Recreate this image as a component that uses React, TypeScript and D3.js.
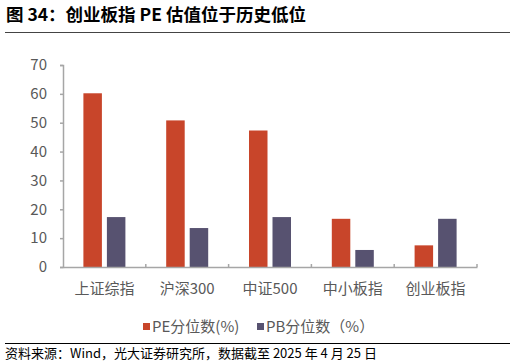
import * as d3 from 'd3'
import React, { useRef, useEffect } from 'react'

const categories = ['上证综指', '沪深300', '中证500', '中小板指', '创业板指']
const peValues = [60.2, 50.8, 47.3, 16.7, 7.5]
const pbValues = [17.3, 13.5, 17.3, 5.9, 16.7]
const seriesNames = ['PE分位数(%)', 'PB分位数（%）']
const yTicks = [0, 10, 20, 30, 40, 50, 60, 70]

const colors = ['#C8452A', '#575270']
const font = '"Noto Sans CJK SC", "Noto Sans", sans-serif'

const App = () => {
  const ref = useRef<SVGSVGElement | null>(null)

  useEffect(() => {
    const svg = d3.select(ref.current)
    svg.selectAll('*').remove()

    const width = 516
    const x0 = 63
    const x1 = 477
    const yTop = 65
    const yBottom = 267

    // Title
    svg.append('text')
      .attr('x', 6)
      .attr('y', 21)
      .style('font-family', font)
      .style('font-size', '17.5px')
      .style('font-weight', 'bold')
      .attr('fill', '#000')
      .text('图 34：创业板指 PE 估值位于历史低位')

    svg.append('line')
      .attr('x1', 5).attr('x2', width - 6)
      .attr('y1', 32.5).attr('y2', 32.5)
      .attr('stroke', '#444').attr('stroke-width', 1)

    const x = d3.scaleBand().domain(categories).range([x0, x1])
    const y = d3.scaleLinear().domain([0, 70]).range([yBottom, yTop])

    const barW = 18.5
    const gap = 5

    const series = [peValues, pbValues]
    series.forEach((vals, si) => {
      svg.selectAll(`.bar-${si}`)
        .data(vals)
        .enter().append('rect')
        .attr('x', (d, i) => {
          const c = x(categories[i])! + x.bandwidth() / 2
          return si === 0 ? c - gap / 2 - barW : c + gap / 2
        })
        .attr('y', d => y(d))
        .attr('width', barW)
        .attr('height', d => yBottom - y(d))
        .attr('fill', colors[si])
    })

    // Y axis
    const yAxis = svg.append('g')
      .attr('transform', `translate(${x0},0)`)
      .call(d3.axisLeft(y).tickValues(yTicks).tickSize(3).tickPadding(13))
    yAxis.select('.domain').attr('stroke', '#A6A6A6').attr('stroke-width', 1.5)
    yAxis.selectAll('.tick line').attr('stroke', '#A6A6A6').attr('stroke-width', 1.5)
    yAxis.selectAll('.tick text')
      .attr('fill', '#595959')
      .style('font-family', font)
      .style('font-size', '15px')

    // X axis
    const xAxis = svg.append('g')
      .attr('transform', `translate(0,${yBottom})`)
      .call(d3.axisBottom(x).tickSize(0).tickPadding(16))
    xAxis.select('.domain').attr('stroke', '#A6A6A6').attr('stroke-width', 1.5)
    xAxis.selectAll('.tick text')
      .attr('fill', '#595959')
      .style('font-family', font)
      .style('font-size', '15px')

    // Category separator ticks
    categories.forEach((c) => {
      const tx = x(c)! + x.bandwidth()
      svg.append('line')
        .attr('x1', tx).attr('x2', tx)
        .attr('y1', yBottom - 3).attr('y2', yBottom)
        .attr('stroke', '#A6A6A6').attr('stroke-width', 1.5)
    })

    // Legend
    const legendX = [143, 257]
    seriesNames.forEach((name, i) => {
      svg.append('rect')
        .attr('x', legendX[i]).attr('y', 323)
        .attr('width', 7).attr('height', 7)
        .attr('fill', colors[i])
      svg.append('text')
        .attr('x', legendX[i] + 9)
        .attr('y', 332)
        .attr('fill', '#595959')
        .style('font-family', font)
        .style('font-size', '15px')
        .text(name)
    })

    // Footer
    svg.append('line')
      .attr('x1', 5).attr('x2', width - 6)
      .attr('y1', 343.5).attr('y2', 343.5)
      .attr('stroke', '#000').attr('stroke-width', 1)

    svg.append('text')
      .attr('x', 5)
      .attr('y', 357.5)
      .attr('fill', '#000')
      .style('font-family', font)
      .style('font-size', '13px')
      .text('资料来源：Wind，光大证券研究所，数据截至 2025 年 4 月 25 日')
  }, [])

  return (
    <svg ref={ref} width={516} height={364}
      style={{ position: 'absolute', left: 0, top: 0, background: '#fff' }} />
  )
}

export default App
